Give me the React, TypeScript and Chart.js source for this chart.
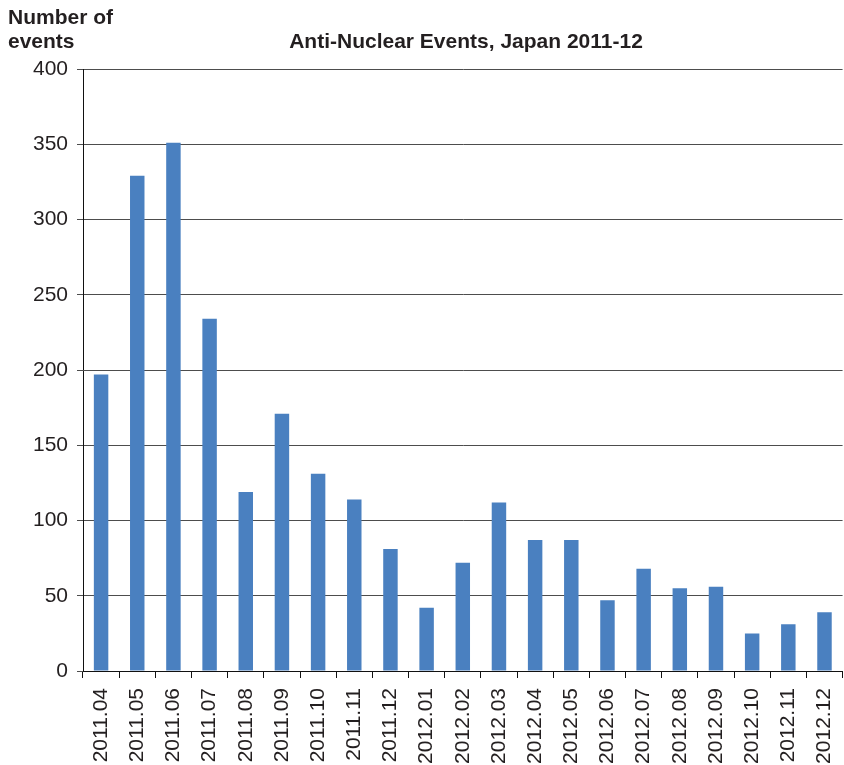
import React, { useEffect, useRef } from "react";
import { Chart, registerables } from "chart.js";

Chart.register(...registerables);

const months = [
  "2011.04", "2011.05", "2011.06", "2011.07", "2011.08", "2011.09", "2011.10",
  "2011.11", "2011.12", "2012.01", "2012.02", "2012.03", "2012.04", "2012.05",
  "2012.06", "2012.07", "2012.08", "2012.09", "2012.10", "2012.11", "2012.12",
];

const eventCounts = [
  197, 329, 351, 234, 119, 171, 131, 114, 81, 42, 72, 112, 87, 87, 47, 68, 55,
  56, 25, 31, 39,
];

const chartTitle = "Anti-Nuclear Events, Japan 2011-12";
const yAxisTitle = ["Number of", "events"];

const FONT = "'Liberation Sans', Arial, Helvetica, sans-serif";
const TEXT = "#231f20";

const headings = {
  id: "headings",
  afterDraw(chart: Chart) {
    const ctx = chart.ctx;
    ctx.save();
    ctx.fillStyle = TEXT;
    ctx.font = `bold 21px ${FONT}`;
    ctx.textBaseline = "alphabetic";
    ctx.textAlign = "left";
    ctx.fillText(yAxisTitle[0], 8, 24);
    ctx.fillText(yAxisTitle[1], 8, 48);
    ctx.textAlign = "center";
    ctx.fillText(chartTitle, 466, 48);
    ctx.restore();
  },
};

export default function App() {
  const canvasRef = useRef<HTMLCanvasElement | null>(null);

  useEffect(() => {
    const canvas = canvasRef.current;
    if (!canvas) return;
    const chart = new Chart(canvas, {
      type: "bar",
      data: {
        labels: months,
        datasets: [
          {
            data: eventCounts,
            backgroundColor: "#4a80c0",
            borderWidth: 0,
            barPercentage: 0.4,
            categoryPercentage: 1,
          },
        ],
      },
      options: {
        animation: false,
        responsive: false,
        devicePixelRatio: 1,
        layout: { padding: { left: 0, top: 69, right: 13, bottom: 0 } },
        plugins: {
          legend: { display: false },
          title: { display: false },
          tooltip: { enabled: false },
        },
        scales: {
          x: {
            offset: true,
            afterFit(scale: any) {
              scale.height = 94;
            },
            grid: {
              offset: true,
              drawOnChartArea: false,
              drawTicks: true,
              tickLength: 7,
              color: "#111",
            },
            border: { display: true, color: "#111", width: 1 },
            ticks: {
              autoSkip: false,
              minRotation: 90,
              maxRotation: 90,
              padding: 10,
              color: TEXT,
              font: { family: FONT, size: 21 },
            },
          },
          y: {
            min: 0,
            max: 400,
            afterFit(scale: any) {
              scale.width = 83;
            },
            grid: {
              color: "#4d4d4d",
              lineWidth: 1,
              drawTicks: true,
              tickLength: 6,
            },
            border: { display: true, color: "#111", width: 1 },
            ticks: {
              stepSize: 50,
              padding: 9,
              color: TEXT,
              font: { family: FONT, size: 21 },
            },
          },
        },
      },
      plugins: [headings],
    });
    return () => chart.destroy();
  }, []);

  return (
    <div
      style={{
        position: "fixed",
        left: 0,
        top: 0,
        width: 844,
        height: 765,
        overflow: "hidden",
        background: "#fff",
      }}
    >
      <canvas
        ref={canvasRef}
        width={860}
        height={765}
        style={{ display: "block", width: 860, height: 765 }}
      />
    </div>
  );
}
